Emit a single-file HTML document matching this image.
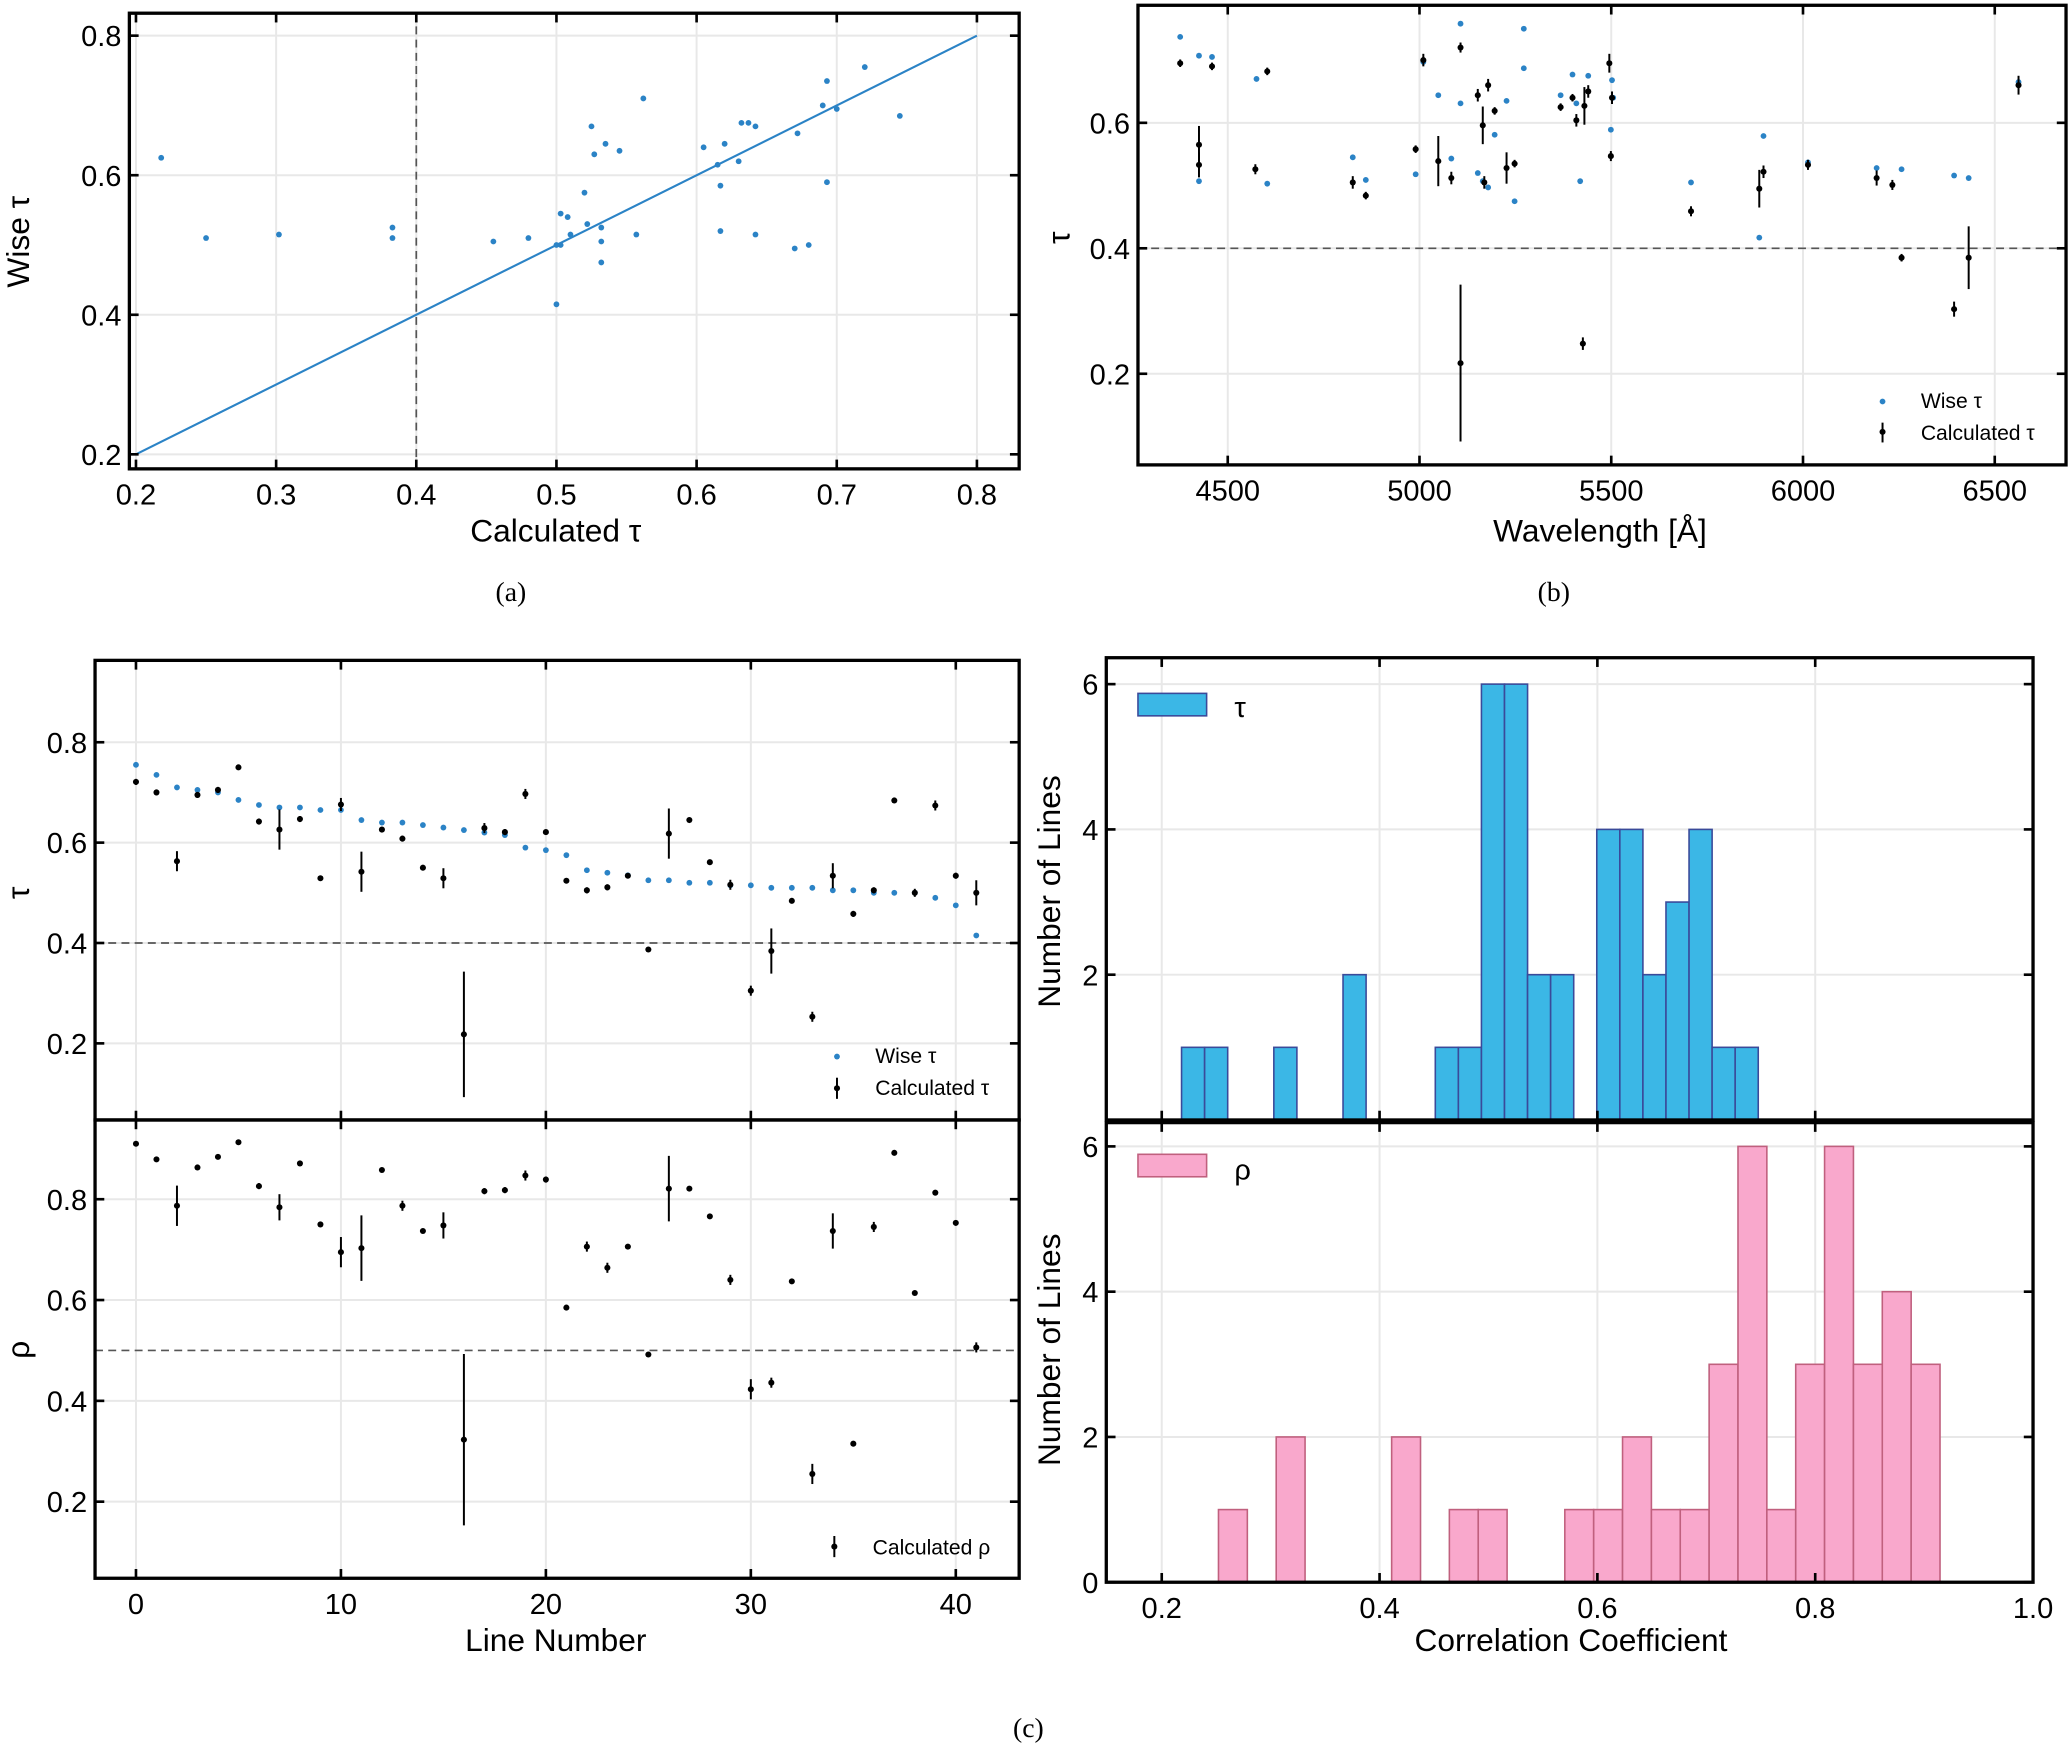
<!DOCTYPE html>
<html><head><meta charset="utf-8"><style>
html,body{margin:0;padding:0;background:#fff;}
svg{display:block;font-family:"Liberation Sans","DejaVu Sans",sans-serif;}
</style></head><body>
<svg id="fig" width="2070" height="1746" viewBox="0 0 1568 1322" preserveAspectRatio="none" xmlns="http://www.w3.org/2000/svg"></svg>
<script>
// ---- Panel (a) data ----
const aCalc=[0.218,0.25,0.302,0.383,0.383,0.455,0.48,0.5,0.5,0.503,0.503,0.508,0.51,0.52,0.522,0.525,0.527,0.532,0.532,0.532,0.535,0.545,0.557,0.562,0.605,0.615,0.617,0.617,0.62,0.63,0.632,0.637,0.642,0.642,0.67,0.672,0.68,0.69,0.693,0.693,0.7,0.72,0.745];
const aWise=[0.625,0.51,0.515,0.525,0.51,0.505,0.51,0.415,0.5,0.5,0.545,0.54,0.515,0.575,0.53,0.67,0.63,0.475,0.505,0.525,0.645,0.635,0.515,0.71,0.64,0.615,0.52,0.585,0.645,0.62,0.675,0.675,0.67,0.515,0.495,0.66,0.5,0.7,0.735,0.59,0.695,0.755,0.685];
const aTicksX=[0.2,0.3,0.4,0.5,0.6,0.7,0.8];
const aTicksY=[0.2,0.4,0.6,0.8];
// ---- Panel (b) data ----
const bWaveW=[4376,4425,4459,4575,4603,4425,4826,4860,4990,5010,5049,5083,5107,5107,5152,5165,5179,5196,5227,5248,5272,5272,5368,5399,5409,5419,5440,5499,5502,5505,5708,5886,5897,6013,6192,6257,6394,6432,6562];
const bWise=[0.737,0.707,0.705,0.67,0.503,0.507,0.545,0.509,0.518,0.697,0.644,0.543,0.758,0.631,0.52,0.507,0.497,0.581,0.635,0.475,0.687,0.75,0.644,0.677,0.631,0.507,0.675,0.589,0.668,0.64,0.505,0.417,0.579,0.537,0.528,0.526,0.516,0.512,0.665];
const bWaveC=[4376,4425,4425,4459,4572,4603,4826,4860,4990,5010,5049,5083,5107,5107,5152,5165,5169,5179,5196,5227,5248,5368,5399,5409,5426,5430,5440,5495,5499,5502,5708,5886,5897,6013,6192,6233,6257,6394,6432,6562];
const bCalc=[0.695,0.565,0.533,0.69,0.526,0.682,0.505,0.484,0.558,0.70,0.539,0.512,0.217,0.72,0.644,0.596,0.505,0.66,0.619,0.528,0.535,0.625,0.64,0.604,0.248,0.627,0.65,0.695,0.547,0.64,0.459,0.495,0.522,0.533,0.512,0.501,0.385,0.303,0.385,0.66];
const bErr=[0.006,0.03,0.02,0.006,0.008,0.006,0.01,0.006,0.006,0.01,0.04,0.01,0.125,0.008,0.01,0.03,0.01,0.01,0.006,0.025,0.006,0.006,0.006,0.01,0.01,0.03,0.01,0.015,0.008,0.01,0.008,0.03,0.01,0.008,0.012,0.008,0.006,0.012,0.05,0.015];
const bTicksX=[4500,5000,5500,6000,6500];
const bTicksY=[0.2,0.4,0.6];
// ---- Panel (c) line data ----
const lineWise=[0.755,0.735,0.71,0.705,0.70,0.685,0.675,0.67,0.67,0.665,0.665,0.645,0.64,0.64,0.635,0.63,0.625,0.62,0.615,0.59,0.585,0.575,0.545,0.54,0.535,0.525,0.525,0.52,0.52,0.515,0.515,0.51,0.51,0.51,0.505,0.505,0.5,0.5,0.5,0.49,0.475,0.415];
const lineCalc=[0.721,0.70,0.563,0.695,0.705,0.75,0.642,0.626,0.647,0.529,0.676,0.542,0.626,0.608,0.55,0.529,0.218,0.629,0.621,0.697,0.621,0.524,0.505,0.511,0.534,0.387,0.618,0.645,0.561,0.516,0.305,0.384,0.484,0.253,0.534,0.458,0.505,0.684,0.5,0.674,0.534,0.50];
const lineCalcErr=[0.006,0.006,0.02,0.006,0.006,0.004,0.006,0.04,0.006,0.004,0.013,0.04,0.004,0.006,0.004,0.02,0.125,0.01,0.006,0.01,0.004,0.004,0.006,0.006,0.004,0.004,0.05,0.004,0.004,0.01,0.01,0.045,0.004,0.01,0.025,0.006,0.006,0.004,0.008,0.01,0.006,0.025];
const lineRho=[0.91,0.879,0.787,0.863,0.884,0.913,0.826,0.784,0.871,0.75,0.695,0.703,0.858,0.787,0.737,0.748,0.323,0.816,0.818,0.847,0.839,0.585,0.706,0.664,0.706,0.492,0.821,0.821,0.766,0.64,0.423,0.436,0.637,0.255,0.737,0.315,0.745,0.892,0.614,0.813,0.753,0.506];
const lineRhoErr=[0.004,0.004,0.04,0.004,0.004,0.004,0.006,0.026,0.004,0.004,0.03,0.065,0.004,0.01,0.004,0.026,0.17,0.006,0.006,0.01,0.006,0.004,0.01,0.01,0.004,0.004,0.065,0.004,0.004,0.01,0.02,0.01,0.004,0.02,0.035,0.004,0.01,0.004,0.004,0.004,0.004,0.01];
const cTicksX=[0,10,20,30,40];
const cTicksYTau=[0.2,0.4,0.6,0.8];
const cTicksYRho=[0.2,0.4,0.6,0.8];
// ---- Histogram data ----
const tauBinStart=0.2182, tauBinWidth=0.02118;
const tauCounts=[1,1,0,0,1,0,0,2,0,0,0,1,1,6,6,2,2,0,4,4,2,3,4,1,1];
const rhoBinStart=0.2521, rhoBinWidth=0.0265;
const rhoCounts=[1,0,2,0,0,0,2,0,1,1,0,0,1,1,2,1,1,3,6,1,3,6,3,4,3];
const hTicksX=[0.2,0.4,0.6,0.8,1.0];
const hTicksYTop=[2,4,6];
const hTicksYBot=[0,2,4,6];

const NS='http://www.w3.org/2000/svg';
const svg=document.getElementById('fig');
function mk(tag,attrs,name,parent){
  const el=document.createElementNS(NS,tag);
  for(const k in attrs) el.setAttribute(k,attrs[k]);
  
  
  (parent||svg).appendChild(el);
  return el;
}
function txt(x,y,s,size,name,opts){
  opts=opts||{};
  const a={x:x,y:y,'font-size':size,'text-anchor':opts.anchor||'middle',fill:'#000'};
  if(opts.rot) a.transform='rotate(-90 '+x+' '+y+')';
  if(opts.family) a['font-family']=opts.family;
  const t=mk('text',a,name);
  t.textContent=s;
  return t;
}
function lin(d0,d1,p0,p1){return v=>p0+(v-d0)*(p1-p0)/(d1-d0);}
function grid(X,Y,box,tx,ty,name){
  tx.forEach(v=>mk('line',{x1:X(v),x2:X(v),y1:box.t,y2:box.b,stroke:'#e8e8e8','stroke-width':1.5},name+'-grid-x'));
  ty.forEach(v=>mk('line',{x1:box.l,x2:box.r,y1:Y(v),y2:Y(v),stroke:'#e8e8e8','stroke-width':1.5},name+'-grid-y'));
}
function frame(X,Y,box,tx,ty,name,labX,labY,fmtX,fmtY){
  const L=7;
  tx.forEach(v=>{
    mk('line',{x1:X(v),x2:X(v),y1:box.b,y2:box.b-L,stroke:'#000','stroke-width':2},name+'-xtick');
    mk('line',{x1:X(v),x2:X(v),y1:box.t,y2:box.t+L,stroke:'#000','stroke-width':2},name+'-xtick-top');
    if(labX) txt(X(v),box.b+27,fmtX(v),22,name+'-xtick-label');
  });
  ty.forEach(v=>{
    mk('line',{x1:box.l,x2:box.l+L,y1:Y(v),y2:Y(v),stroke:'#000','stroke-width':2},name+'-ytick');
    mk('line',{x1:box.r,x2:box.r-L,y1:Y(v),y2:Y(v),stroke:'#000','stroke-width':2},name+'-ytick-right');
    if(labY) txt(box.l-6,Y(v)+8,fmtY(v),22,name+'-ytick-label',{anchor:'end'});
  });
  mk('rect',{x:box.l,y:box.t,width:box.r-box.l,height:box.b-box.t,fill:'none',stroke:'#000','stroke-width':2.5},name+'-frame');
}
function dot(x,y,r,c,name){mk('circle',{cx:x,cy:y,r:r,fill:c},name);}
function ebar(x,y,e,Y,name){
  mk('line',{x1:x,x2:x,y1:Y(y-e),y2:Y(y+e),stroke:'#000','stroke-width':1.5},name+'-errorbar');
  dot(x,Y(y),2.3,'#000',name);
}
const f1=v=>v.toFixed(1);
const BLUE='#2b83c6';

// ===== Panel (a) =====
{
const box={l:98,r:772,t:10,b:355};
const X=lin(0.2,0.8,103,740), Y=lin(0.2,0.8,344,27);
grid(X,Y,box,aTicksX,aTicksY,'a');
mk('line',{x1:X(0.4),x2:X(0.4),y1:box.t,y2:box.b,stroke:'#555','stroke-width':1.3,'stroke-dasharray':'6,4'},'a-threshold-line');
mk('line',{x1:X(0.2),y1:Y(0.2),x2:X(0.8),y2:Y(0.8),stroke:BLUE,'stroke-width':1.6},'a-identity-line');
aCalc.forEach((c,i)=>dot(X(c),Y(aWise[i]),2.2,BLUE,'a-point'));
frame(X,Y,box,aTicksX,aTicksY,'a',true,true,f1,f1);
txt(421,410,'Calculated τ',24,'a-x-axis-title');
txt(22,183,'Wise τ',24,'a-y-axis-title',{rot:true});
txt(387,455,'(a)',21,'caption-a',{family:'"Liberation Serif",serif'});
}
// ===== Panel (b) =====
{
const box={l:862,r:1565,t:4,b:352};
const X=lin(4500,6500,930,1511), Y=lin(0.4,0.6,188,93);
grid(X,Y,box,bTicksX,bTicksY,'b');
mk('line',{x1:box.l,x2:box.r,y1:Y(0.4),y2:Y(0.4),stroke:'#555','stroke-width':1.3,'stroke-dasharray':'6,4'},'b-threshold-line');
bWaveW.forEach((w,i)=>dot(X(w),Y(bWise[i]),2.2,BLUE,'b-wise-point'));
bWaveC.forEach((w,i)=>ebar(X(w),bCalc[i],bErr[i],Y,'b-calc-point'));
frame(X,Y,box,bTicksX,bTicksY,'b',true,true,v=>String(v),f1);
txt(1212,410,'Wavelength [Å]',24,'b-x-axis-title');
txt(810,180,'τ',24,'b-y-axis-title',{rot:true});
dot(1426,304,2.2,BLUE,'b-legend-wise-marker');
txt(1455,309,'Wise τ',16,'b-legend-wise',{anchor:'start'});
mk('line',{x1:1426,x2:1426,y1:320,y2:335,stroke:'#000','stroke-width':1.5},'b-legend-calc-bar');
dot(1426,327,2.3,'#000','b-legend-calc-marker');
txt(1455,333,'Calculated τ',16,'b-legend-calc',{anchor:'start'});
txt(1177,455,'(b)',21,'caption-b',{family:'"Liberation Serif",serif'});
}
// ===== Panel (c) top: tau vs line =====
const cX=lin(0,40,103,724);
{
const box={l:72,r:772,t:500,b:848};
const Y=lin(0.2,0.8,790,562);
grid(cX,Y,box,cTicksX,cTicksYTau,'c-tau');
mk('line',{x1:box.l,x2:box.r,y1:Y(0.4),y2:Y(0.4),stroke:'#555','stroke-width':1.3,'stroke-dasharray':'6,4'},'c-tau-threshold-line');
lineWise.forEach((v,i)=>dot(cX(i),Y(v),2.2,BLUE,'c-tau-wise-point'));
lineCalc.forEach((v,i)=>ebar(cX(i),v,lineCalcErr[i],Y,'c-tau-calc-point'));
frame(cX,Y,box,cTicksX,cTicksYTau,'c-tau',false,true,String,f1);
txt(22,676,'τ',24,'c-tau-y-axis-title',{rot:true});
dot(634,800,2.2,BLUE,'c-legend-wise-marker');
txt(663,805,'Wise τ',16,'c-legend-wise',{anchor:'start'});
mk('line',{x1:634,x2:634,y1:816,y2:832,stroke:'#000','stroke-width':1.5},'c-legend-calc-bar');
dot(634,824,2.3,'#000','c-legend-calc-marker');
txt(663,829,'Calculated τ',16,'c-legend-calc',{anchor:'start'});
}
// ===== Panel (c) bottom: rho vs line =====
{
const box={l:72,r:772,t:848,b:1195};
const Y=lin(0.2,0.8,1137,908);
grid(cX,Y,box,cTicksX,cTicksYRho,'c-rho');
mk('line',{x1:box.l,x2:box.r,y1:Y(0.5),y2:Y(0.5),stroke:'#555','stroke-width':1.3,'stroke-dasharray':'6,4'},'c-rho-threshold-line');
lineRho.forEach((v,i)=>ebar(cX(i),v,lineRhoErr[i],Y,'c-rho-calc-point'));
frame(cX,Y,box,cTicksX,cTicksYRho,'c-rho',true,true,String,f1);
txt(421,1250,'Line Number',24,'c-x-axis-title');
txt(22,1022,'ρ',24,'c-rho-y-axis-title',{rot:true});
mk('line',{x1:632,x2:632,y1:1163,y2:1179,stroke:'#000','stroke-width':1.5},'c-legend-rho-bar');
dot(632,1171,2.3,'#000','c-legend-rho-marker');
txt(661,1177,'Calculated ρ',16,'c-legend-rho',{anchor:'start'});
}
// ===== Histograms =====
const hX=lin(0.2,1.0,880,1540);
function hist(box,Y,counts,start,w,fill,edge,ticksY,name,labX){
  grid(hX,Y,box,hTicksX,ticksY,name);
  counts.forEach((c,k)=>{
    if(!c) return;
    const x0=hX(start+k*w), x1=hX(start+(k+1)*w);
    mk('rect',{x:x0,y:Y(c),width:x1-x0,height:Y(0)-Y(c),fill:fill,stroke:edge,'stroke-width':1.2},name+'-bar');
  });
  frame(hX,Y,box,hTicksX,ticksY,name,labX,true,v=>v.toFixed(1),String);
}
{
const box={l:838,r:1540,t:498,b:848};
const Y=lin(0,6,848,518);
hist(box,Y,tauCounts,tauBinStart,tauBinWidth,'#3bb7e6','#3a4a9a',hTicksYTop,'hist-tau',false);
txt(803,675,'Number of Lines',24,'hist-tau-y-axis-title',{rot:true});
mk('rect',{x:862,y:525,width:52,height:17,fill:'#3bb7e6',stroke:'#3a4a9a','stroke-width':1.2},'hist-tau-legend-patch');
txt(935,543,'τ',22,'hist-tau-legend-label',{anchor:'start'});
}
{
const box={l:838,r:1540,t:850,b:1198};
const Y=lin(0,6,1198,868);
hist(box,Y,rhoCounts,rhoBinStart,rhoBinWidth,'#f9a8cc','#c0607e',hTicksYBot,'hist-rho',true);
txt(803,1022,'Number of Lines',24,'hist-rho-y-axis-title',{rot:true});
txt(1190,1250,'Correlation Coefficient',24,'hist-x-axis-title');
mk('rect',{x:862,y:874,width:52,height:17,fill:'#f9a8cc',stroke:'#c0607e','stroke-width':1.2},'hist-rho-legend-patch');
txt(935,893,'ρ',22,'hist-rho-legend-label',{anchor:'start'});
}
txt(779,1315,'(c)',21,'caption-c',{family:'"Liberation Serif",serif'});
</script>
</body></html>
